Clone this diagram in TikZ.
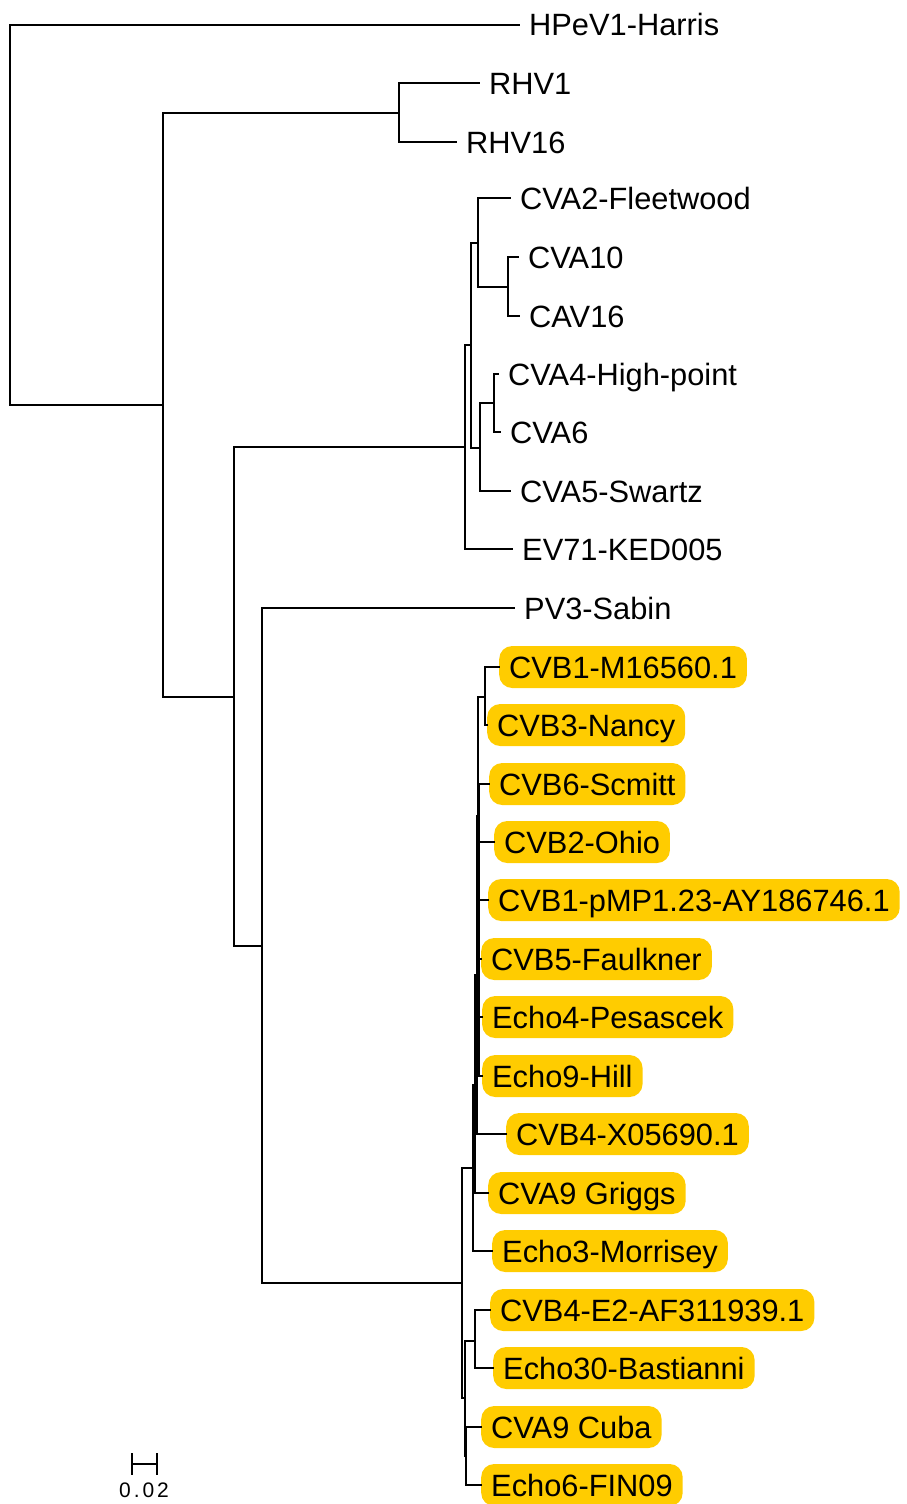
\documentclass[tikz,border=0pt]{standalone}
\usepackage{fontspec}
\setmainfont{Liberation Sans}
\definecolor{pillgold}{RGB}{255,204,0}
\tikzset{
  br/.style={line width=2pt, line cap=rect, draw=black},
  lab/.style={anchor=west, inner xsep=10pt, inner ysep=0pt, text height=22pt, text depth=0pt, font=\fontsize{30.8}{36}\selectfont},
  pill/.style={lab, inner xsep=10pt, fill=pillgold, rounded corners=13pt, minimum height=42pt},
}
\begin{document}
\begin{tikzpicture}[x=1pt,y=-1pt]
\useasboundingbox (0,0) rectangle (906,1504);
% leaves
\node[lab] (HPeV) at (519,25) {HPeV1-Harris};
\node[lab] (RHV1) at (479,83) {RHV1};
\node[lab] (RHV16) at (456,142) {RHV16};
\node[lab] (CVA2) at (510,198) {CVA2-Fleetwood};
\node[lab] (CVA10) at (518,257) {CVA10};
\node[lab] (CAV16) at (519,316) {CAV16};
\node[lab] (CVA4) at (498,374) {CVA4-High-point};
\node[lab] (CVA6) at (500,432) {CVA6};
\node[lab] (CVA5) at (510,491) {CVA5-Swartz};
\node[lab] (EV71) at (512,549) {EV71-KED005};
\node[lab] (PV3) at (514,608) {PV3-Sabin};
\node[pill] (CVB1M) at (499,667) {CVB1-M16560.1};
\node[pill] (CVB3) at (487,725) {CVB3-Nancy};
\node[pill] (CVB6) at (489,784) {CVB6-Scmitt};
\node[pill] (CVB2) at (494,842) {CVB2-Ohio};
\node[pill] (CVB1P) at (488,900) {CVB1-pMP1.23-AY186746.1};
\node[pill] (CVB5) at (481,959) {CVB5-Faulkner};
\node[pill] (E4) at (482,1017) {Echo4-Pesascek};
\node[pill] (E9) at (482,1076) {Echo9-Hill};
\node[pill] (CVB4X) at (506,1134) {CVB4-X05690.1};
\node[pill] (CVA9G) at (488,1193) {CVA9 Griggs};
\node[pill] (E3) at (492,1251) {Echo3-Morrisey};
\node[pill] (CVB4E) at (490,1310) {CVB4-E2-AF311939.1};
\node[pill] (E30) at (493,1368) {Echo30-Bastianni};
\node[pill] (CVA9C) at (481,1427) {CVA9 Cuba};
\node[pill] (E6) at (481,1485) {Echo6-FIN09};
% internal nodes
\coordinate (R) at (10,215);
\coordinate (A) at (163,405);
\coordinate (RHV) at (399,113);
\coordinate (B) at (234,697);
\coordinate (CVA) at (465,447);
\coordinate (CVAa) at (471,345);
\coordinate (CVAb) at (478,243);
\coordinate (CVAd) at (508,287);
\coordinate (CVAc) at (480,448);
\coordinate (CVAe) at (494,403);
\coordinate (C) at (262,946);
\coordinate (CVB) at (462,1283);
\coordinate (N10) at (473,1168);
\coordinate (N9) at (475,1085);
\coordinate (N8) at (477,975);
\coordinate (N7) at (478,816);
\coordinate (N1) at (485,697);
\coordinate (N6) at (479,930);
\coordinate (L) at (465,1398);
\coordinate (LA) at (475,1341);
\coordinate (LB) at (466,1456);
% branches
\draw[br] (R) |- (HPeV.west);
\draw[br] (R) |- (A);
\draw[br] (A) |- (RHV);
\draw[br] (A) |- (B);
\draw[br] (RHV) |- (RHV1.west);
\draw[br] (RHV) |- (RHV16.west);
\draw[br] (B) |- (CVA);
\draw[br] (B) |- (C);
\draw[br] (CVA) |- (CVAa);
\draw[br] (CVA) |- (EV71.west);
\draw[br] (CVAa) |- (CVAb);
\draw[br] (CVAa) |- (CVAc);
\draw[br] (CVAb) |- (CVA2.west);
\draw[br] (CVAb) |- (CVAd);
\draw[br] (CVAd) |- (CVA10.west);
\draw[br] (CVAd) |- (CAV16.west);
\draw[br] (CVAc) |- (CVAe);
\draw[br] (CVAc) |- (CVA5.west);
\draw[br] (CVAe) |- (CVA4.west);
\draw[br] (CVAe) |- (CVA6.west);
\draw[br] (C) |- (PV3.west);
\draw[br] (C) |- (CVB);
\draw[br] (CVB) |- (N10);
\draw[br] (CVB) |- (L);
\draw[br] (N10) |- (N9);
\draw[br] (N10) |- (E3.west);
\draw[br] (N9) |- (N8);
\draw[br] (N9) |- (CVA9G.west);
\draw[br] (N8) |- (N7);
\draw[br] (N8) |- (CVB4X.west);
\draw[br] (N7) |- (N1);
\draw[br] (N7) |- (N6);
\draw[br] (N1) |- (CVB1M.west);
\draw[br] (N1) |- (CVB3.west);
\draw[br] (N6) |- (CVB6.west);
\draw[br] (N6) |- (CVB2.west);
\draw[br] (N6) |- (CVB1P.west);
\draw[br] (N6) |- (CVB5.west);
\draw[br] (N6) |- (E4.west);
\draw[br] (N6) |- (E9.west);
\draw[br] (L) |- (LA);
\draw[br] (L) |- (LB);
\draw[br] (LA) |- (CVB4E.west);
\draw[br] (LA) |- (E30.west);
\draw[br] (LB) |- (CVA9C.west);
\draw[br] (LB) |- (E6.west);
% scale bar
\coordinate (sbL) at (132,1464);
\coordinate (sbR) at (157,1464);
\draw[br,line cap=butt] (sbL) -- (sbR);
\draw[br,line cap=butt] ([yshift=11pt]sbL) -- ([yshift=-11pt]sbL);
\draw[br,line cap=butt] ([yshift=11pt]sbR) -- ([yshift=-11pt]sbR);
\node[inner sep=0pt, font=\fontsize{21}{24}\selectfont\addfontfeature{LetterSpace=14}] (sbT) at (144,1490) {0.02};
\end{tikzpicture}
\end{document}
